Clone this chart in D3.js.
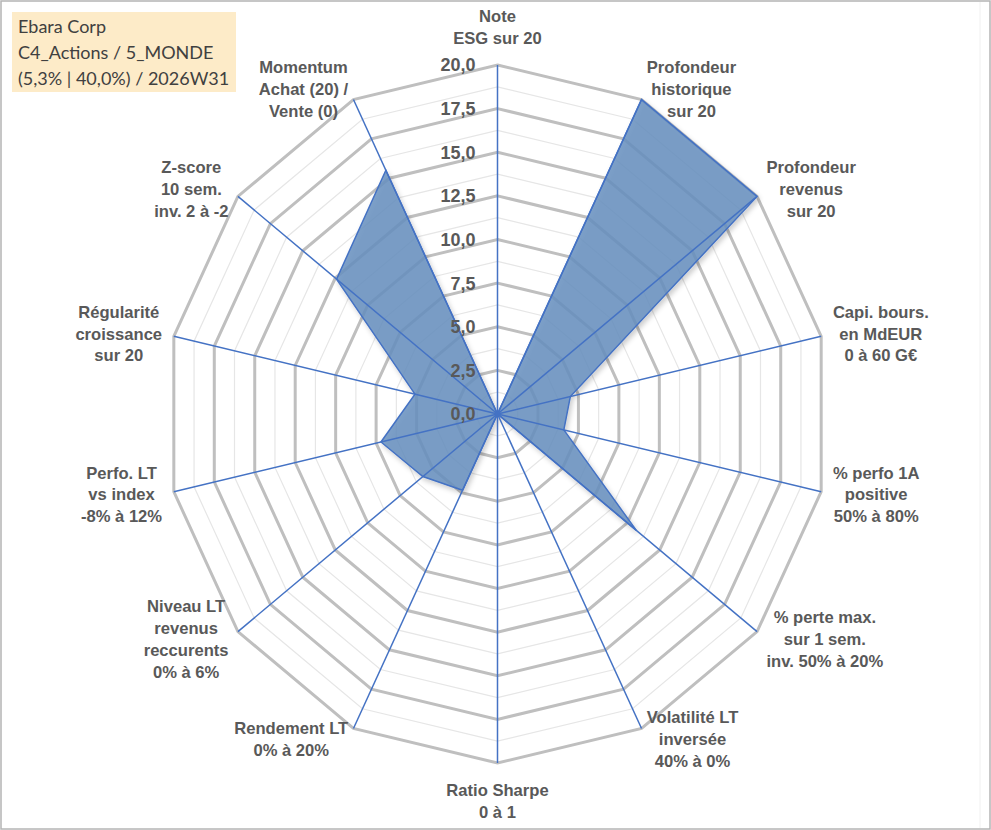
<!DOCTYPE html>
<html>
<head>
<meta charset="utf-8">
<script src="https://cdn.jsdelivr.net/npm/d3@7"></script>
<style>
  body { margin: 0; background: #ffffff; }
  #canvas svg { display: block; }
</style>
</head>
<body>
<div id="canvas"></div>
<script>
"use strict"

/* Drawing dimensions */
let svgWidth = 991;
let svgHeight = 830;
let centerX = 497.5;
let centerY = 414;
let radiusX = 332; // the plot area is slightly taller than wide
let radiusY = 349;

/* Data: axis labels (one list per label, one string per line) */
let categories = [
    ["Note", "ESG sur 20"],
    ["Profondeur", "historique", "sur 20"],
    ["Profondeur", "revenus", "sur 20"],
    ["Capi. bours.", "en MdEUR", "0 à 60 G€"],
    ["% perfo 1A", "positive", "50% à 80%"],
    ["% perte max.", "sur 1 sem.", "inv. 50% à 20%"],
    ["Volatilité LT", "inversée", "40% à 0%"],
    ["Ratio Sharpe", "0 à 1"],
    ["Rendement LT", "0% à 20%"],
    ["Niveau LT", "revenus", "reccurents", "0% à 6%"],
    ["Perfo. LT", "vs index", "-8% à 12%"],
    ["Régularité", "croissance", "sur 20"],
    ["Z-score", "10 sem.", "inv. 2 à -2"],
    ["Momentum", "Achat (20) /", "Vente (0)"]
];

/* Series values (scored 0 to 20) */
let seriesValues = [0, 20, 20, 4.5, 4.1, 10.7, 0, 0, 4.85, 5.75, 7.2, 5.1, 12.4, 15.5];

/* Radial axis ticks */
let tickValues = [0, 2.5, 5, 7.5, 10, 12.5, 15, 17.5, 20];
let tickLabels = ["0,0", "2,5", "5,0", "7,5", "10,0", "12,5", "15,0", "17,5", "20,0"];
let minorValues = [1.25, 3.75, 6.25, 8.75, 11.25, 13.75, 16.25, 18.75];

/* Title box lines */
let titleLines = ["Ebara Corp", "C4_Actions / 5_MONDE", "(5,3% | 40,0%) / 2026W31"];

/* Create the drawing canvas */
let svg = d3.select("#canvas")
    .append("svg")
    .attr("width", svgWidth)
    .attr("height", svgHeight);

let defs = svg.append("defs");
let shadow = defs.append("filter")
    .attr("id", "shadow")
    .attr("x", "-10%").attr("y", "-10%")
    .attr("width", "120%").attr("height", "120%");
shadow.append("feDropShadow")
    .attr("dx", 2).attr("dy", 3)
    .attr("stdDeviation", 2.5)
    .attr("flood-color", "#000000")
    .attr("flood-opacity", 0.22);

/* Outer chart border */
svg.append("rect")
    .attr("x", 1).attr("y", 1)
    .attr("width", svgWidth - 2)
    .attr("height", svgHeight - 2)
    .attr("fill", "#ffffff")
    .attr("stroke", "#b4b4b4")
    .attr("stroke-width", 1.5);

svg.append("line")
    .attr("x1", 980).attr("x2", 980)
    .attr("y1", 2).attr("y2", svgHeight - 2)
    .attr("stroke", "#f0f0f0")
    .attr("stroke-width", 1);

/* Scales */
let n = categories.length;
let angleScale = d3.scaleLinear()
    .domain([0, n])
    .range([0, 2 * Math.PI]);

let rScaleX = d3.scaleLinear().domain([0, 20]).range([0, radiusX]);
let rScaleY = d3.scaleLinear().domain([0, 20]).range([0, radiusY]);

function point(i, v) {
    let a = angleScale(i);
    return [centerX + rScaleX(v) * Math.sin(a), centerY - rScaleY(v) * Math.cos(a)];
}

let ringLine = d3.line().curve(d3.curveLinearClosed);

function ringPoints(v) {
    return d3.range(n).map(function (i) { return point(i, v); });
}

/* Minor and major gridlines */
svg.append("g")
    .selectAll("path")
    .data(minorValues)
    .join("path")
    .attr("d", function (d) { return ringLine(ringPoints(d)); })
    .attr("fill", "none")
    .attr("stroke", "#e6e6e6")
    .attr("stroke-width", 1.2);

svg.append("g")
    .selectAll("path")
    .data(tickValues.filter(function (d) { return d > 0; }))
    .join("path")
    .attr("d", function (d) { return ringLine(ringPoints(d)); })
    .attr("fill", "none")
    .attr("stroke", "#bfbfbf")
    .attr("stroke-width", 3);

/* Data polygon */
svg.append("path")
    .attr("d", ringLine(seriesValues.map(function (v, i) { return point(i, v); })))
    .attr("fill", "#6890c0")
    .attr("fill-opacity", 0.85)
    .attr("stroke", "#4472c4")
    .attr("stroke-width", 1.5)
    .attr("filter", "url(#shadow)");

/* Spokes */
svg.append("g")
    .selectAll("line")
    .data(d3.range(n))
    .join("line")
    .attr("x1", centerX)
    .attr("y1", centerY)
    .attr("x2", function (i) { return point(i, 20)[0]; })
    .attr("y2", function (i) { return point(i, 20)[1]; })
    .attr("stroke", "#4472c4")
    .attr("stroke-width", 1.5);

svg.append("circle")
    .attr("cx", centerX).attr("cy", centerY)
    .attr("r", 3)
    .attr("fill", "#4472c4");

/* Radial tick labels */
svg.append("g")
    .selectAll("text")
    .data(tickValues)
    .join("text")
    .attr("x", centerX - 22)
    .attr("y", function (d) { return centerY - rScaleY(d); })
    .attr("dy", "0.36em")
    .attr("text-anchor", "end")
    .style("font-family", "'Liberation Sans', Arial, sans-serif")
    .style("font-weight", "bold")
    .style("font-size", "18px")
    .style("fill", "#595959")
    .text(function (d, i) { return tickLabels[i]; });

/* Axis labels, placed just outside each outer vertex */
let lineHeight = 21.8;
let labelGap = 12;
let verticalGap = 16;

categories.forEach(function (lines, i) {
    let a = angleScale(i);
    let dx = Math.sin(a);
    let dy = -Math.cos(a);
    let tip = point(i, 20);

    let g = svg.append("g");
    let texts = g.selectAll("text")
        .data(lines)
        .join("text")
        .attr("text-anchor", "middle")
        .style("font-family", "'Liberation Sans', Arial, sans-serif")
        .style("font-weight", "bold")
        .style("font-size", "16.6px")
        .style("fill", "#595959")
        .text(function (d) { return d; });

    let w = d3.max(texts.nodes(), function (node) { return node.getComputedTextLength(); });
    let h = lines.length * lineHeight;

    let midX;
    let midY;
    if (Math.abs(dx) < 0.1) {
        midX = tip[0];
        midY = dy < 0 ? tip[1] - verticalGap - h / 2 : tip[1] + verticalGap + h / 2;
    } else {
        let ax = tip[0] + dx * labelGap;
        midX = dx > 0 ? ax + w / 2 : ax - w / 2;
        midY = tip[1] + dy * labelGap;
    }

    texts.attr("x", midX)
        .attr("y", function (d, k) { return midY - h / 2 + lineHeight * (k + 0.5); })
        .attr("dy", "0.36em");
});

/* Title box */
svg.append("rect")
    .attr("x", 12)
    .attr("y", 12)
    .attr("width", 224)
    .attr("height", 80)
    .attr("fill", "#fdebc8");

svg.append("g")
    .selectAll("text")
    .data(titleLines)
    .join("text")
    .attr("x", 18)
    .attr("y", function (d, i) { return 33 + i * 26; })
    .style("font-family", "Lato, 'Open Sans', sans-serif")
    .style("font-size", "18px")
    .style("fill", "#404040")
    .text(function (d) { return d; });
</script>
</body>
</html>
